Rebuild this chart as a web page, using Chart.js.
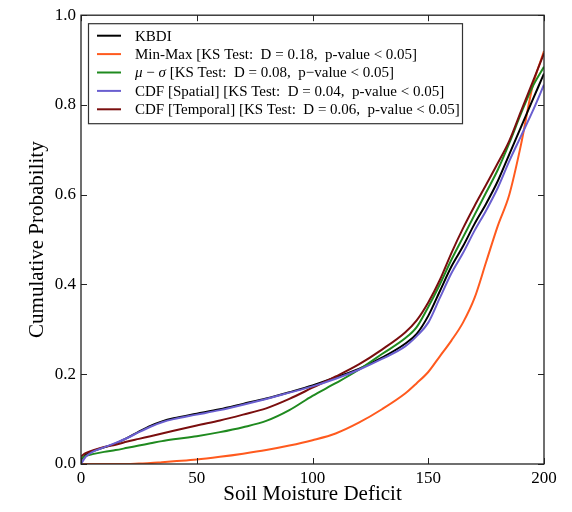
<!DOCTYPE html>
<html>
<head>
<meta charset="utf-8">
<script src="https://cdn.jsdelivr.net/npm/chart.js@4/dist/chart.umd.min.js"></script>
<style>
html,body{margin:0;padding:0;background:#fff;}
canvas{display:block;}
</style>
</head>
<body>
<canvas id="c" width="572" height="512"></canvas>
<script>
// ---- data ----
const deficit = [0,2,5,10,15,20,25,30,35,40,50,60,70,80,90,100,110,120,130,140,145,150,155,160,165,170,175,180,185,190,195,200];
const kbdi     = [0.01,0.02,0.028,0.037,0.046,0.058,0.072,0.085,0.095,0.102,0.112,0.122,0.134,0.146,0.16,0.175,0.193,0.212,0.237,0.268,0.29,0.33,0.385,0.44,0.485,0.535,0.58,0.63,0.69,0.75,0.81,0.87];
const minMax   = [0,0,0,0,0,0,0.001,0.002,0.004,0.006,0.01,0.016,0.023,0.031,0.041,0.053,0.068,0.092,0.122,0.157,0.18,0.205,0.24,0.275,0.315,0.37,0.45,0.53,0.6,0.71,0.84,0.92];
const muSigma  = [0.012,0.018,0.022,0.027,0.031,0.036,0.041,0.046,0.051,0.055,0.062,0.071,0.082,0.096,0.12,0.152,0.18,0.21,0.245,0.28,0.305,0.35,0.4,0.455,0.505,0.555,0.605,0.655,0.715,0.78,0.84,0.885];
const cdfSpatial  = [0.0,0.016,0.027,0.037,0.047,0.058,0.071,0.083,0.093,0.1,0.11,0.12,0.132,0.145,0.159,0.173,0.19,0.21,0.234,0.262,0.285,0.315,0.37,0.425,0.47,0.52,0.565,0.615,0.675,0.73,0.785,0.845];
const cdfTemporal = [0.017,0.024,0.03,0.038,0.043,0.05,0.056,0.062,0.068,0.074,0.086,0.097,0.11,0.124,0.145,0.17,0.195,0.222,0.255,0.293,0.32,0.36,0.41,0.47,0.525,0.575,0.622,0.67,0.72,0.785,0.85,0.915];
const seriesLabels = [
  "KBDI",
  "Min-Max [KS Test:  D = 0.18,  p-value < 0.05]",
  "μ − σ [KS Test:  D = 0.08,  p−value < 0.05]",
  "CDF [Spatial] [KS Test:  D = 0.04,  p-value < 0.05]",
  "CDF [Temporal] [KS Test:  D = 0.06,  p-value < 0.05]"
];
const xTicks = [0,50,100,150,200];
const yTicks = [0.0,0.2,0.4,0.6,0.8,1.0];
const xTitle = "Soil Moisture Deficit";
const yTitle = "Cumulative Probability";

const colors = ["#000000","#ff5a1e","#1f8a1f","#6a5fd0","#7a0e0e"];
const seriesValues = [kbdi, minMax, muSigma, cdfSpatial, cdfTemporal];
const SERIF = "'Liberation Serif','DejaVu Serif',serif";

const datasets = seriesValues.map((vals, i) => ({
  label: seriesLabels[i],
  data: deficit.map((x, j) => ({x: x, y: vals[j]})),
  borderColor: colors[i],
  backgroundColor: colors[i],
  borderWidth: 2,
  pointRadius: 0,
  cubicInterpolationMode: 'monotone',
  fill: false
}));
const order = [1,0,2,4,3];
order.forEach((idx, k) => datasets[idx].order = 5 - k);

const frameAndLegend = {
  id: 'frameAndLegend',
  afterDatasetsDraw(chart) {
    const ctx = chart.ctx;
    const a = chart.chartArea;
    const xs = chart.scales.x, ys = chart.scales.y;
    ctx.save();
    ctx.strokeStyle = '#222';
    ctx.lineWidth = 1.3;
    ctx.strokeRect(a.left, a.top, a.right - a.left, a.bottom - a.top);
    ctx.lineWidth = 1;
    const tl = 6;
    xTicks.forEach(v => {
      const p = Math.round(xs.getPixelForValue(v)) + 0.5;
      ctx.beginPath();
      ctx.moveTo(p, a.bottom); ctx.lineTo(p, a.bottom - tl);
      ctx.moveTo(p, a.top); ctx.lineTo(p, a.top + tl);
      ctx.stroke();
    });
    yTicks.forEach(v => {
      const p = Math.round(ys.getPixelForValue(v)) + 0.5;
      ctx.beginPath();
      ctx.moveTo(a.left, p); ctx.lineTo(a.left + tl, p);
      ctx.moveTo(a.right, p); ctx.lineTo(a.right - tl, p);
      ctx.stroke();
    });
    // legend box
    const bx = a.left + 7, by = a.top + 8, bw = 374, bh = 100;
    ctx.fillStyle = '#fff';
    ctx.fillRect(bx, by, bw, bh);
    ctx.strokeStyle = '#333';
    ctx.lineWidth = 1.2;
    ctx.strokeRect(bx + 0.5, by + 0.5, bw, bh);
    const rowY0 = by + 12.5, rowH = 18.4;
    chart.data.datasets.forEach((ds, i) => {
      const y = rowY0 + i * rowH;
      ctx.strokeStyle = ds.borderColor;
      ctx.lineWidth = 2;
      ctx.beginPath();
      ctx.moveTo(bx + 9, y); ctx.lineTo(bx + 33, y);
      ctx.stroke();
      let x = bx + 47;
      ctx.fillStyle = '#000';
      ctx.textBaseline = 'middle';
      const parts = ds.label.split(/([μσ])/);
      parts.forEach(p => {
        if (!p) return;
        ctx.font = (/[μσ]/.test(p) ? 'italic ' : '') + '15px ' + SERIF;
        ctx.fillText(p, x, y + 1);
        x += ctx.measureText(p).width;
      });
    });
    ctx.restore();
  }
};

new Chart(document.getElementById('c'), {
  type: 'line',
  data: { datasets: datasets },
  options: {
    responsive: false,
    animation: false,
    devicePixelRatio: 1,
    layout: { padding: { left: 0, top: 15, right: 28, bottom: 0 } },
    plugins: { legend: { display: false }, tooltip: { enabled: false } },
    scales: {
      x: {
        type: 'linear', min: 0, max: 200,
        afterBuildTicks: s => { s.ticks = xTicks.map(v => ({value: v})); },
        afterFit: s => { s.height = 48; },
        grid: { display: false, drawTicks: false },
        border: { display: false },
        ticks: { color: '#000', font: { family: SERIF, size: 17 }, padding: 4, maxRotation: 0 },
        title: { display: true, text: xTitle, color: '#000', font: { family: SERIF, size: 21 }, padding: { top: 0, bottom: 5 } }
      },
      y: {
        type: 'linear', min: 0, max: 1,
        afterBuildTicks: s => { s.ticks = yTicks.map(v => ({value: v})); },
        afterFit: s => { s.width = 81; },
        grid: { display: false, drawTicks: false },
        border: { display: false },
        ticks: { color: '#000', font: { family: SERIF, size: 17 }, padding: 5, callback: v => Number(v).toFixed(1) },
        title: { display: true, text: yTitle, color: '#000', font: { family: SERIF, size: 21 }, padding: { top: 25, bottom: 0 } }
      }
    }
  },
  plugins: [frameAndLegend]
});
</script>
</body>
</html>
